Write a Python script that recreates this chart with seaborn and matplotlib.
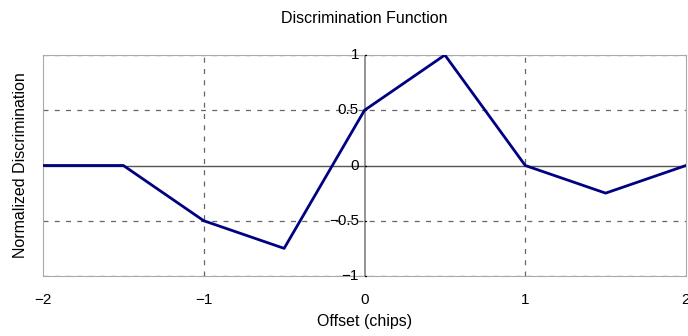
import matplotlib
matplotlib.use("Agg")
import matplotlib.pyplot as plt
import seaborn as sns
import pandas as pd
import matplotlib.transforms as mtransforms

offset = [-2.0, -1.5, -1.0, -0.5, 0.0, 0.5, 1.0, 1.5, 2.0]
discrimination = [0.0, 0.0, -0.5, -0.75, 0.5, 1.0, 0.0, -0.25, 0.0]
xticks = [-2, -1, 0, 1, 2]
yticks = [-1, -0.5, 0, 0.5, 1]
ytick_labels = ["\u22121", "\u22120.5", "0", "0.5", "1"]
xtick_labels = ["\u22122", "\u22121", "0", "1", "2"]

sns.set_theme(style="white")
plt.rcParams['font.family'] = ['Liberation Sans', 'DejaVu Sans']
plt.rcParams['text.color'] = 'black'
plt.rcParams['axes.labelcolor'] = 'black'
plt.rcParams['xtick.color'] = 'black'

fig = plt.figure(figsize=(6.88, 3.36), dpi=100)
ax = fig.add_axes([43/688, 1-276/336, (686-43)/688, (276-55)/336])

df = pd.DataFrame({"x": offset, "y": discrimination})
sns.lineplot(data=df, x="x", y="y", ax=ax, color="#000080", linewidth=2.0, zorder=5)

ax.set_xlim(-2, 2)
ax.set_ylim(-1, 1)

# grid (dashed)
for xv in [-1, 1]:
    ax.axvline(xv, color="#666666", linestyle=(0, (4, 5)), linewidth=0.9, zorder=1)
for yv in [-1, -0.5, 0.5, 1]:
    ax.axhline(yv, color="#666666", linestyle=(0, (4, 5)), linewidth=0.9, zorder=1)
# axes through origin
ax.axhline(0, color="#555555", linewidth=1.0, zorder=2)
ax.axvline(0, color="#777777", linewidth=1.1, zorder=2)

for s in ax.spines.values():
    s.set_color("#aaaaaa")
    s.set_linewidth(0.8)

ax.set_xticks(xticks)
ax.set_xticklabels(xtick_labels, fontsize=11, color="black")
ax.tick_params(axis="x", length=0, pad=12)
ax.set_yticks([])
ax.set_ylabel("Normalized Discrimination", fontsize=11.5, labelpad=11, color="black")
ax.set_xlabel("Offset (chips)", fontsize=11.5, labelpad=5, color="black")
ax.set_title("Discrimination Function", fontsize=11.5, pad=23, color="black")

tr = mtransforms.offset_copy(ax.transData, fig=fig, x=-4, y=0, units="points")
for yv, lab in zip(yticks, ytick_labels):
    ax.text(0, yv, lab, transform=tr, ha="right", va="center", fontsize=11, color="black", zorder=6)
# small tick marks at x=0 axis
for yv in yticks:
    ax.plot([0, 0.012], [yv, yv], color="#000000", linewidth=1.0, zorder=3, clip_on=False)

fig.savefig("out.png", dpi=100)
